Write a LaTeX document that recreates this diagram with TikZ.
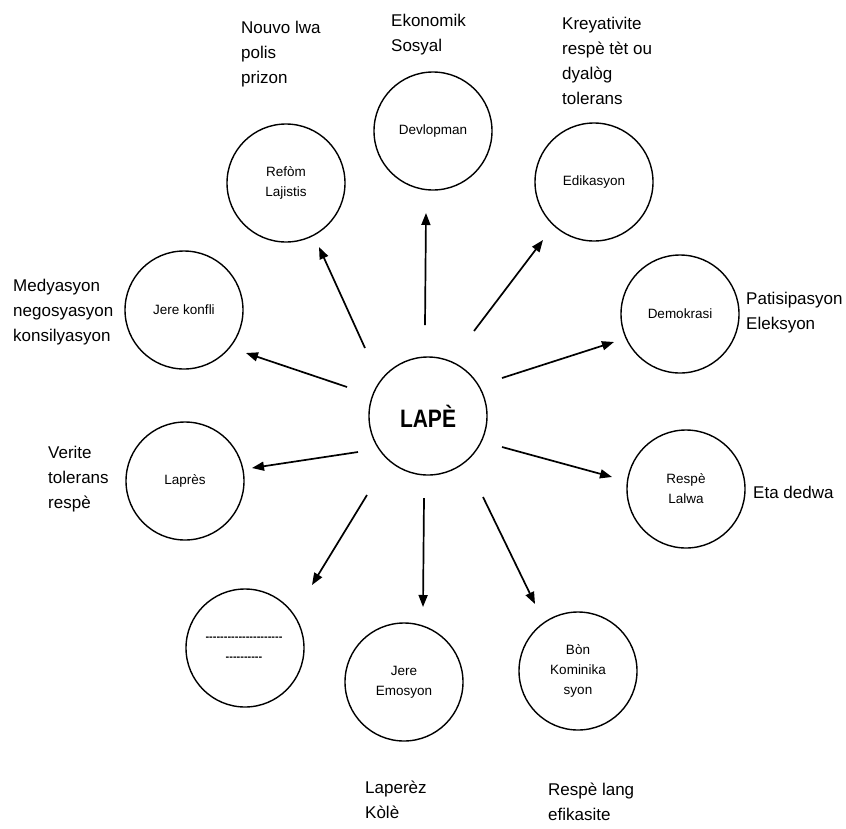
\documentclass[tikz,border=0pt]{standalone}
\usepackage{fontspec}
\setmainfont{Liberation Sans}
\usetikzlibrary{arrows.meta}
\newcommand\hyps[1]{\foreach \i in {1,...,#1}{\mbox{-}}}
\begin{document}
\begin{tikzpicture}[x=1pt,y=-1pt,
 ring/.style={draw,circle,line width=1.4pt,minimum size=118pt,inner sep=0pt,align=center,font=\fontsize{13.5}{20}\selectfont},
 lbl/.style={anchor=west,align=left,inner sep=0pt,font=\fontsize{17}{25}\selectfont},
 arr/.style={line width=1.7pt,-{Triangle[length=12pt,width=9pt]}}]
\path[use as bounding box] (0,0) rectangle (846,828);

\node[ring] (lape) at (428,416) {\fontsize{21}{24}\selectfont\bfseries\scalebox{1}[1.2]{LAPÈ}};
\node[ring] (dev) at (433,131) {Devlopman};
\node[ring] (edi) at (594,182) {Edikasyon};
\node[ring] (dem) at (680,314) {Demokrasi};
\node[ring] (res) at (686,489) {Respè\\Lalwa};
\node[ring] (bon) at (578,671) {Bòn\\Kominika\\syon};
\node[ring] (emo) at (404,682) {Jere\\Emosyon};
\node[ring] (blank) at (245,648) {};
\node[ring] (pres) at (185,481) {Laprès};
\node[ring] (konf) at (184,310) {Jere konfli};
\node[ring] (ref) at (286,183) {Refòm\\Lajistis};

\node[align=center,inner sep=0pt,font=\fontsize{11}{20}\selectfont\bfseries] (dash) at (244,649) {\hyps{21}\\\hyps{10}};

\coordinate (s1) at (425,325);  \coordinate (t1) at (426,213);
\coordinate (s2) at (365,348);  \coordinate (t2) at (319,247);
\coordinate (s3) at (347,387);  \coordinate (t3) at (246,353);
\coordinate (s4) at (358,452);  \coordinate (t4) at (252,468);
\coordinate (s5) at (367,495);  \coordinate (t5) at (312,585);
\coordinate (s6) at (424,498);  \coordinate (t6) at (423,607);
\coordinate (s7) at (483,497);  \coordinate (t7) at (535,604);
\coordinate (s8) at (502,447);  \coordinate (t8) at (612,477);
\coordinate (s9) at (502,378);  \coordinate (t9) at (614,342);
\coordinate (s10) at (474,331); \coordinate (t10) at (543,240);

\foreach \k in {1,...,10}{\draw[arr] (s\k) -- (t\k);}

\node[lbl] (l1) at (241,54) {Nouvo lwa\\polis\\prizon};
\node[lbl] (l2) at (391,35) {Ekonomik\\Sosyal};
\node[lbl] (l3) at (562,61) {Kreyativite\\respè tèt ou\\dyalòg\\tolerans};
\node[lbl] (l4) at (746,313) {Patisipasyon\\Eleksyon};
\node[lbl] (l5) at (753,492) {Eta dedwa};
\node[lbl] (l6) at (48,479) {Verite\\tolerans\\respè};
\node[lbl] (l7) at (13,312) {Medyasyon\\negosyasyon\\konsilyasyon};
\node[lbl] (l8) at (365,800) {Laperèz\\Kòlè};
\node[lbl] (l9) at (548,802) {Respè lang\\efikasite};
\end{tikzpicture}
\end{document}
